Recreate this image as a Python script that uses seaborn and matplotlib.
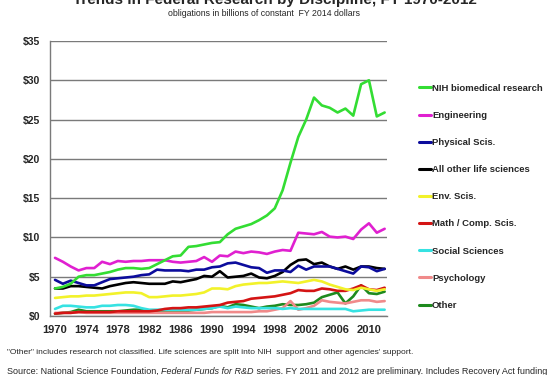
import numpy as np
import pandas as pd
import matplotlib
matplotlib.use("Agg")
import matplotlib.pyplot as plt
from matplotlib.lines import Line2D
import seaborn as sns

years = list(range(1970, 2013))

nih = [3.5, 3.7, 4.1, 5.0, 5.2, 5.2, 5.4, 5.6, 5.9, 6.1, 6.1, 6.0, 6.1, 6.6, 7.1,
       7.6, 7.7, 8.8, 8.9, 9.1, 9.3, 9.4, 10.4, 11.1, 11.4, 11.7, 12.2, 12.8, 13.7,
       16.0, 19.5, 22.8, 25.0, 27.8, 26.8, 26.5, 25.9, 26.4, 25.5, 29.5, 30.0, 25.4, 25.9]
engineering = [7.4, 6.9, 6.3, 5.8, 6.1, 6.1, 6.9, 6.6, 7.0, 6.9, 7.0, 7.0, 7.1, 7.1, 7.1,
               6.9, 6.8, 6.9, 7.0, 7.5, 6.9, 7.7, 7.6, 8.2, 8.0, 8.2, 8.1, 7.9, 8.2,
               8.4, 8.3, 10.6, 10.5, 10.4, 10.7, 10.1, 10.0, 10.1, 9.8, 11.0, 11.8, 10.6, 11.1]
physical = [4.6, 4.1, 4.5, 4.2, 3.9, 3.9, 4.3, 4.7, 4.8, 4.9, 5.0, 5.2, 5.3, 5.9, 5.8,
            5.8, 5.8, 5.7, 5.9, 5.9, 6.2, 6.3, 6.7, 6.8, 6.5, 6.2, 6.1, 5.5, 5.8,
            5.8, 5.6, 6.4, 5.9, 6.3, 6.3, 6.3, 6.0, 5.7, 5.4, 6.3, 6.2, 5.7, 6.0]
other_life = [3.5, 3.5, 3.8, 3.8, 3.7, 3.6, 3.5, 3.8, 4.0, 4.2, 4.3, 4.2, 4.1, 4.1, 4.1,
              4.4, 4.3, 4.5, 4.7, 5.1, 5.0, 5.7, 4.9, 5.0, 5.1, 5.4, 4.9, 4.8, 5.1,
              5.6, 6.5, 7.1, 7.2, 6.6, 6.8, 6.3, 6.0, 6.3, 5.9, 6.3, 6.3, 6.1, 6.0]
env = [2.3, 2.4, 2.5, 2.5, 2.6, 2.6, 2.7, 2.8, 2.9, 3.0, 3.0, 2.9, 2.4, 2.4, 2.5,
       2.6, 2.6, 2.7, 2.8, 3.0, 3.5, 3.5, 3.4, 3.8, 4.0, 4.1, 4.2, 4.2, 4.3,
       4.4, 4.3, 4.2, 4.4, 4.6, 4.4, 4.0, 3.7, 3.4, 3.3, 3.6, 3.4, 3.2, 3.4]
math_comp = [0.3, 0.4, 0.4, 0.5, 0.5, 0.5, 0.5, 0.5, 0.6, 0.6, 0.6, 0.6, 0.6, 0.7, 0.9,
             1.0, 1.0, 1.1, 1.1, 1.2, 1.3, 1.4, 1.7, 1.8, 1.9, 2.2, 2.3, 2.4, 2.5,
             2.7, 2.9, 3.3, 3.2, 3.2, 3.5, 3.4, 3.2, 3.2, 3.5, 3.9, 3.4, 3.3, 3.6]
social = [0.9, 1.3, 1.3, 1.2, 1.1, 1.1, 1.3, 1.3, 1.4, 1.4, 1.3, 1.0, 0.8, 0.8, 0.8,
          0.8, 0.8, 0.8, 0.8, 0.9, 1.0, 1.2, 1.0, 1.2, 1.1, 1.0, 1.0, 1.0, 1.0,
          0.9, 1.0, 0.9, 0.9, 0.9, 0.9, 0.9, 0.9, 0.9, 0.6, 0.7, 0.8, 0.8, 0.8]
psychology = [0.4, 0.4, 0.4, 0.5, 0.4, 0.4, 0.4, 0.4, 0.4, 0.4, 0.4, 0.4, 0.4, 0.4, 0.4,
              0.4, 0.4, 0.4, 0.4, 0.4, 0.5, 0.5, 0.5, 0.5, 0.5, 0.5, 0.6, 0.6, 0.8,
              1.0, 1.9, 0.8, 1.0, 1.3, 2.0, 1.8, 1.7, 1.6, 1.8, 2.0, 2.0, 1.8, 1.9]
other = [0.3, 0.4, 0.5, 0.8, 0.6, 0.6, 0.6, 0.6, 0.6, 0.7, 0.8, 0.8, 0.7, 0.7, 0.7,
         0.7, 0.7, 0.7, 0.8, 0.9, 1.0, 1.3, 1.1, 1.5, 1.4, 1.2, 1.0, 1.2, 1.3,
         1.5, 1.4, 1.4, 1.5, 1.7, 2.4, 2.7, 3.0, 1.6, 2.5, 3.9, 2.9, 2.8, 3.1]

series_names = ["NIH biomedical research", "Engineering", "Physical Scis.",
                "All other life sciences", "Env. Scis.", "Math / Comp. Scis.",
                "Social Sciences", "Psychology", "Other"]
series_values = [nih, engineering, physical, other_life, env, math_comp,
                 social, psychology, other]
colors = ["#33dd33", "#e020d0", "#0c0c9c", "#000000", "#f2f22a", "#d41414",
          "#36e2e2", "#f08a8a", "#1e8a1e"]

frames = []
for name, vals in zip(series_names, series_values):
    frames.append(pd.DataFrame({"year": years, "value": vals, "series": name}))
df = pd.concat(frames, ignore_index=True)

sns.set_style("white")
plt.rcParams["font.family"] = ["Liberation Sans", "DejaVu Sans"]

fig = plt.figure(figsize=(5.5, 3.75), dpi=100)
ax = fig.add_axes([50 / 550, 59 / 375, 337 / 550, 275 / 375])

# draw in reverse so NIH ends up on top
palette = dict(zip(series_names, colors))
sns.lineplot(data=df, x="year", y="value", hue="series", hue_order=series_names[::-1],
             palette=palette, linewidth=1.9, ax=ax, legend=False)

ax.set_xlim(1969.36, 2012.3)
ax.set_ylim(0, 35)
ax.set_yticks(range(0, 36, 5))
ax.set_yticklabels([f"${v}" for v in range(0, 36, 5)], fontsize=7.5, fontweight="bold")
ax.set_xticks(range(1970, 2011, 4))
ax.set_xticklabels([str(y) for y in range(1970, 2011, 4)], fontsize=8, fontweight="bold")
ax.set_xticks(years, minor=True)
ax.yaxis.grid(True, color="#7a7a7a", linewidth=1.0)
ax.set_axisbelow(True)
ax.tick_params(axis="x", which="both", direction="inout", length=6, color="#7a7a7a", width=1)
ax.tick_params(axis="y", direction="out", length=3, color="#7a7a7a", width=1, pad=4)
ax.set_xlabel("")
ax.set_ylabel("")
for side in ["top", "right"]:
    ax.spines[side].set_visible(False)
for side in ["left", "bottom"]:
    ax.spines[side].set_color("#7a7a7a")
    ax.spines[side].set_linewidth(1.0)

handles = [Line2D([0], [0], color=c, linewidth=2.2) for c in colors]
fig.legend(handles, series_names, loc="upper left", bbox_to_anchor=(415 / 550, 1 - 80 / 375),
           frameon=False, prop={"size": 6.8, "weight": "bold"}, handlelength=1.3,
           handletextpad=0.1, labelspacing=1.92, borderaxespad=0)

fig.text(0.5, 1 - 4 / 375, "Trends in Federal Research by Discipline, FY 1970-2012",
         ha="center", va="baseline", fontsize=11, fontweight="bold")
fig.text(264 / 550, 1 - 14 / 375, "obligations in billions of constant  FY 2014 dollars",
         ha="center", va="center", fontsize=6.3)
fig.text(7 / 550, 1 - 352 / 375,
         "\"Other\" includes research not classified. Life sciences are split into NIH  support and other agencies' support.",
         ha="left", va="center", fontsize=6.0)

# source line: plain / italic / plain pieces placed one after the other
src_parts = [("Source: National Science Foundation, ", "normal"),
             ("Federal Funds for R&D", "italic"),
             (" series. FY 2011 and 2012 are preliminary. Includes Recovery Act funding", "normal")]
renderer = fig.canvas.get_renderer()
x_px = 7
for txt, style in src_parts:
    t = fig.text(x_px / 550, 1 - 371 / 375, txt, ha="left", va="center",
                 fontsize=6.5, fontstyle=style)
    x_px += t.get_window_extent(renderer).width

fig.savefig("out.png", dpi=100, facecolor="white")
